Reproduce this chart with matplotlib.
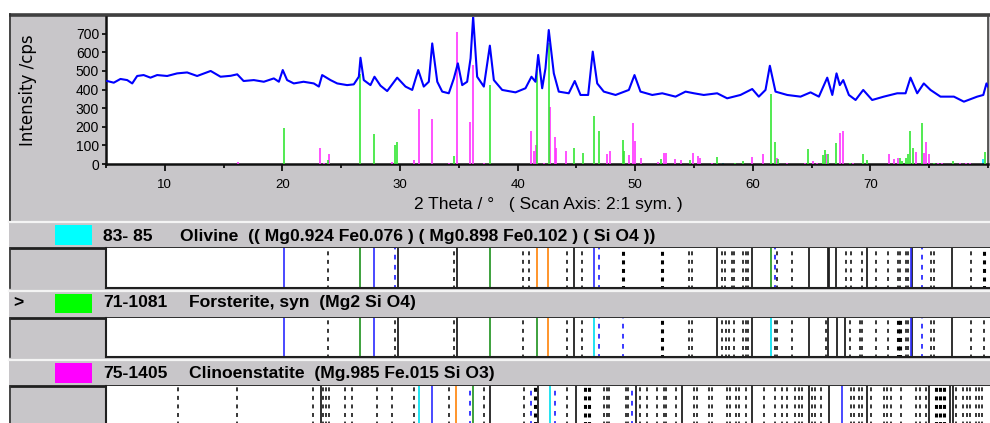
import matplotlib
matplotlib.use('Agg')
import matplotlib.pyplot as plt
from matplotlib.patches import Rectangle
from matplotlib.ticker import MultipleLocator

W, H = 990, 423
GRAY = '#c8c6c9'
FONT = ['Liberation Sans', 'DejaVu Sans']

scan_tt = [5.1, 5.66, 6.23, 6.8, 7.23, 7.65, 8.2, 8.78, 9.35, 10.2, 11.05, 11.9, 12.75,
           13.9, 14.74, 15.6, 16.16, 16.7, 17.57, 18.42, 19.27, 19.7, 20.03, 20.4, 20.97,
           21.8, 22.67, 23.1, 23.38, 24.09, 24.66, 25.5, 26.07, 26.5, 26.64, 26.92, 27.49,
           27.83, 28.34, 28.91, 29.76, 30.47, 31.04, 31.55, 32.02, 32.45, 32.74, 33.17,
           33.59, 34.15, 34.58, 34.92, 35.29, 35.71, 36.0, 36.22, 36.56, 37.13, 37.64,
           37.98, 38.69, 39.82, 40.67, 41.18, 41.52, 41.75, 42.09, 42.37, 42.65, 43.08,
           43.5, 44.35, 44.86, 45.35, 46.0, 46.39, 46.77, 47.33, 48.33, 49.46, 49.94,
           50.45, 51.45, 52.3, 53.43, 54.28, 55.0, 55.83, 56.97, 57.82, 58.95, 59.95,
           60.51, 61.08, 61.45, 61.93, 62.93, 64.06, 64.91, 65.62, 66.33, 66.76, 67.12,
           67.4, 67.69, 68.17, 68.74, 69.39, 70.15, 71.14, 72.28, 72.99, 73.41, 73.98,
           74.54, 75.11, 75.96, 77.1, 77.95, 79.08, 79.6, 79.87, 80.0]
scan_cps = [446, 437, 457, 451, 433, 473, 478, 464, 478, 473, 487, 492, 473,
            500, 469, 474, 482, 446, 451, 442, 460, 442, 505, 451, 433,
            442, 433, 416, 478, 451, 433, 424, 428, 469, 571, 451, 424,
            469, 421, 392, 464, 416, 398, 505, 416, 442, 648, 442,
            389, 380, 460, 541, 424, 442, 568, 792, 469, 416, 636,
            451, 398, 385, 407, 469, 442, 586, 407, 514, 720, 487,
            389, 380, 446, 371, 371, 604, 433, 389, 371, 398, 478,
            389, 371, 380, 362, 389, 380, 371, 380, 353, 371, 403,
            362, 398, 528, 389, 371, 362, 385, 362, 464, 371, 487,
            424, 451, 371, 344, 398, 344, 362, 380, 380, 464, 380,
            433, 398, 362, 362, 335, 362, 371, 433, 416]

# ---- reference patterns (stick positions and heights) ----
olivine_tt = [57.46, 79.6]
olivine_h = [5, 25]

forst_tt = [20.12, 23.87, 26.57, 27.76, 29.55, 29.77, 34.58, 37.65, 41.63, 42.63, 44.76,
            45.52, 46.46, 46.91, 48.93, 49.04, 52.22, 54.64, 56.98, 58.5, 59.2, 61.53,
            61.87, 62.15, 64.73, 66.0, 66.17, 66.4, 67.1, 68.28, 69.33, 69.7, 72.54,
            72.66, 73.03, 73.17, 73.4, 73.65, 74.39, 75.39, 77.0, 79.77]
forst_h = [195, 21, 484, 160, 102, 120, 45, 425, 510, 649, 88,
           61, 260, 177, 129, 70, 25, 21, 40, 8, 18, 375,
           116, 25, 79, 48, 75, 52, 111, 8, 54, 21, 30,
           18, 30, 54, 177, 88, 219, 8, 18, 66]

clino_tt = [16.2, 23.2, 23.5, 24.0, 29.36, 31.17, 31.6, 32.68, 34.18, 34.81, 35.94, 36.17,
            37.14, 41.1, 41.42, 41.54, 42.28, 42.72, 43.14, 43.28, 44.14, 47.6, 47.82,
            49.44, 49.78, 49.98, 50.52, 51.94, 52.42, 52.62, 53.42, 53.93, 54.93, 55.33,
            55.5, 56.55, 59.97, 60.9, 62.03, 62.95, 64.4, 65.13, 65.5, 66.26, 67.42,
            67.63, 68.48, 71.6, 71.97, 72.37, 73.88, 74.54, 74.73, 75.0, 75.73, 76.07,
            77.6, 78.1, 78.5]
clino_h = [12, 88, 5, 54, 12, 21, 294, 244, 5, 711, 227, 532,
           5, 177, 70, 102, 8, 308, 147, 84, 70, 54, 70,
           48, 219, 125, 30, 10, 61, 61, 25, 21, 61, 45,
           30, 8, 35, 54, 30, 8, 8, 18, 8, 54, 168,
           177, 8, 54, 25, 30, 66, 57, 116, 52, 8, 8,
           8, 8, 8]

# ---- comparison strips: line positions (2theta) ----
s1_solid = [29.83, 34.81, 44.76, 56.97, 59.95, 64.78, 66.38, 66.5, 67.1, 69.67, 73.52, 76.95]
s1_dash = [23.92, 34.58, 40.44, 41.0, 44.24, 45.47, 54.6, 54.8, 57.35, 57.6, 58.2, 58.4,
           59.2, 59.4, 59.6, 62.1, 63.37, 67.9, 68.35, 69.25, 70.47, 71.47, 72.32, 72.54,
           73.03, 73.22, 75.16, 75.39, 78.57]
s1_bold = [48.96, 52.28, 79.7]
s1_blue = [20.12, 27.76, 46.46, 73.46]
s1_blue_dash = [29.55, 46.88, 61.87, 74.4]
s1_green = [26.57, 37.65, 61.52]
s1_orange = [41.63, 42.62]

s2_solid = [29.83, 34.81, 44.76, 56.97, 59.95, 64.78, 66.41, 67.12, 67.86, 73.52, 76.95]
s2_dash = [23.92, 29.55, 34.58, 40.44, 44.24, 45.47, 54.6, 54.8, 57.35, 57.75, 58.0, 58.4,
           59.2, 59.4, 59.6, 61.87, 62.1, 63.37, 66.2, 68.3, 69.1, 69.3, 70.47, 71.47,
           73.03, 73.22, 75.16, 75.39, 78.57, 79.7]
s2_bold = [52.28, 72.35, 72.5]
s2_blue = [20.12, 27.76, 73.46]
s2_blue_dash = [46.88, 48.96, 74.4]
s2_green = [26.57, 37.65, 41.63]
s2_orange = [42.62]
s2_cyan = [46.46, 61.52]

s3_solid = [23.3, 37.65, 41.75, 45.0, 50.03, 54.0, 59.95, 64.76, 66.46, 69.67, 74.97,
            76.81, 77.01]
s3_dash = [11.16, 16.14, 22.6, 23.45, 23.7, 24.0, 25.35, 25.9, 28.07, 29.35, 31.17, 34.18,
           37.14, 40.53, 44.16, 47.33, 47.56, 47.76, 49.18, 49.37, 50.45, 51.02, 51.87,
           52.43, 52.66, 53.43, 54.98, 55.27, 56.26, 56.55, 57.82, 58.05, 58.53, 58.81,
           59.38, 60.94, 61.93, 62.5, 62.92, 63.63, 63.91, 64.2, 65.05, 65.33, 65.76,
           68.31, 68.59, 69.01, 69.3, 70.01, 71.14, 71.43, 71.71, 72.56, 73.84, 74.26,
           74.69, 77.24, 77.89, 78.23, 78.51, 79.0, 79.22, 79.51]
s3_bold = [41.52, 45.77, 46.06, 75.54, 75.96, 76.24]
s3_blue = [32.68, 67.6]
s3_blue_dash = [35.94, 41.1, 43.22, 49.74]
s3_green = [36.17]
s3_orange = [34.8]
s3_cyan = [31.6, 42.74]

headers = [('83- 85', 'Olivine  (( Mg0.924 Fe0.076 ) ( Mg0.898 Fe0.102 ) ( Si O4 ))', '#00ffff'),
           ('71-1081', 'Forsterite, syn  (Mg2 Si O4)', '#00ff00'),
           ('75-1405', 'Clinoenstatite  (Mg.985 Fe.015 Si O3)', '#ff00ff')]


def rect(l, t, r, b):
    return [l / W, 1 - b / H, (r - l) / W, (b - t) / H]


fig = plt.figure(figsize=(W / 100, H / 100), dpi=100, facecolor='white')

# background panel in pixel coordinates
bg = fig.add_axes([0, 0, 1, 1])
bg.set_xlim(0, W)
bg.set_ylim(H, 0)
bg.axis('off')
bg.add_patch(Rectangle((9, 14), W - 9, H - 14, facecolor=GRAY, edgecolor='none'))
bg.plot([9, W], [15.3, 15.3], color='#404040', lw=2.6, solid_capstyle='butt')
bg.plot([9.5, 9.5], [14, 221], color='#303030', lw=1.2)
for y in [222, 291, 360]:
    bg.plot([9, W], [y, y], color='#f4f4f4', lw=1.6)
for top, bot in [(248, 288), (318, 357), (386, 423)]:
    bg.plot([9, W], [top, top], color='#202020', lw=2.0, solid_capstyle='butt')
    bg.plot([9.5, 9.5], [top, bot], color='#303030', lw=1.2)

# header bars: swatch, code, name; baseline and swatch rows in pixels
hy = [(241, 225, 245), (307, 294, 313), (378, 363, 383)]
for (code, name, col), (yb, y0, y1) in zip(headers, hy):
    bg.add_patch(Rectangle((55, y0), 37, y1 - y0, facecolor=col, edgecolor='none'))
    bg.text(103, yb, code, family=FONT, weight='bold', fontsize=12.6,
            ha='left', va='baseline')
    bg.text(180 if code == '83- 85' else 189, yb, name, family=FONT, weight='bold',
            fontsize=12.6, ha='left', va='baseline')
bg.text(13, 307, '>', family=FONT, weight='bold', fontsize=12.6, ha='left', va='baseline')
bg.text(548, 205, '2 Theta / \u00b0   ( Scan Axis: 2:1 sym. )', family=FONT,
        fontsize=12.5, ha='center', va='center')
bg.text(28, 90, 'Intensity /cps', family='DejaVu Sans', fontsize=12, rotation=90,
        ha='center', va='center')

# main diffractogram
ax = fig.add_axes(rect(106, 17, 988, 164))
ax.set_facecolor('white')
ax.vlines(olivine_tt, 0, olivine_h, colors='#00e8ff', lw=1.2, zorder=2)
ax.vlines(clino_tt, 0, clino_h, colors='#ff33ff', lw=1.2, zorder=3)
ax.vlines(forst_tt, 0, forst_h, colors='#33e633', lw=1.2, zorder=4)
ax.plot(scan_tt, scan_cps, color='#0000ff', lw=1.5, zorder=5)
ax.set_xlim(5, 80)
ax.set_ylim(0, 790)
ax.set_xticks(range(10, 80, 10))
ax.xaxis.set_minor_locator(MultipleLocator(5))
ax.set_yticks(range(0, 800, 100))
ax.tick_params(axis='y', direction='out', length=3, width=1.2, pad=2, labelsize=10)
ax.tick_params(axis='x', which='major', direction='out', length=5, width=1.2, pad=6,
               labelsize=9.5)
ax.tick_params(axis='x', which='minor', direction='out', length=3, width=1.2)
for lab in ax.get_xticklabels() + ax.get_yticklabels():
    lab.set_family(FONT)
for side in ['left', 'bottom']:
    ax.spines[side].set_linewidth(1.8)
    ax.spines[side].set_color('#101010')
ax.spines['top'].set_visible(False)
ax.spines['right'].set_linewidth(1.2)
ax.spines['right'].set_color('#404040')

# comparison strips
strips = [
    (248, 288, s1_solid, s1_dash, s1_bold, s1_blue, s1_blue_dash, s1_green, s1_orange, []),
    (318, 357, s2_solid, s2_dash, s2_bold, s2_blue, s2_blue_dash, s2_green, s2_orange, s2_cyan),
    (386, 430, s3_solid, s3_dash, s3_bold, s3_blue, s3_blue_dash, s3_green, s3_orange, s3_cyan),
]
dash = [(1, (2.6, 3.0))]
dash_bold = [(0.5, (1.3, 1.5))]
for top, bot, solid, dsh, bold, blue, blue_d, green, orange, cyan in strips:
    sa = fig.add_axes(rect(106, top, W, bot))
    sa.set_facecolor('white')
    sa.set_xlim(5, 5 + (W - 106) / 11.76)
    sa.set_ylim(0, 1)
    sa.set_xticks([])
    sa.set_yticks([])
    sa.vlines(solid, 0, 1, colors='#202020', lw=1.3)
    sa.vlines(dsh, 0, 1, colors='black', lw=1.1, linestyles=dash)
    sa.vlines(bold, 0, 1, colors='black', lw=2.2, linestyles=dash_bold)
    sa.vlines(blue, 0, 1, colors='#2b2bff', lw=1.2)
    sa.vlines(blue_d, 0, 1, colors='#2b2bff', lw=1.3, linestyles=dash)
    sa.vlines(green, 0, 1, colors='#2e9a2e', lw=1.3)
    sa.vlines(orange, 0, 1, colors='#ff8c1a', lw=1.3)
    sa.vlines(cyan, 0, 1, colors='#10e0f0', lw=1.3)
    sa.spines['top'].set_visible(False)
    sa.spines['right'].set_visible(False)
    sa.spines['left'].set_linewidth(1.5)
    sa.spines['left'].set_color('#202020')
    sa.spines['bottom'].set_linewidth(1.5)
    sa.spines['bottom'].set_color('#202020')

fig.savefig('out.png', dpi=100, facecolor='white')
